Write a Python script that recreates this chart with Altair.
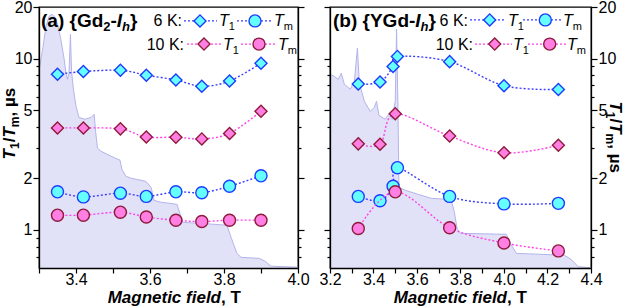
import altair as alt
import pandas as pd

FONT = "Liberation Sans"

# ---------------- data ----------------
# panel (a) {Gd2-Ih}
a_field = [3.35, 3.42, 3.52, 3.59, 3.67, 3.74, 3.815, 3.90]
a_t1_6k = [8.1, 8.4, 8.55, 8.0, 7.5, 6.9, 7.4, 9.4]
a_tm_6k = [1.67, 1.56, 1.64, 1.57, 1.67, 1.65, 1.80, 2.07]
a_t1_10k = [3.94, 3.94, 3.89, 3.49, 3.48, 3.40, 3.66, 4.93]
a_tm_10k = [1.22, 1.22, 1.27, 1.19, 1.14, 1.12, 1.14, 1.14]

# panel (b) {YGd-Ih}
b_field_6k = [3.33, 3.43, 3.49, 3.51, 3.75, 4.00, 4.25]
b_t1_6k = [7.1, 7.3, 9.0, 10.3, 9.6, 6.95, 6.6]
b_tm_6k = [1.57, 1.48, 1.80, 2.31, 1.57, 1.42, 1.43]
b_field_t1_10k = [3.33, 3.43, 3.50, 3.75, 4.00, 4.25]
b_t1_10k = [3.18, 3.16, 4.76, 3.53, 2.82, 3.12]
b_field_tm_10k = [3.33, 3.50, 3.75, 4.00, 4.25]
b_tm_10k = [1.02, 1.67, 1.03, 0.84, 0.755]

# EPR spectra (relative intensity, arbitrary units)
a_spec_field = [3.300, 3.311, 3.319, 3.327, 3.335, 3.343, 3.351, 3.359, 3.368, 3.373,
                3.377, 3.381, 3.385, 3.388, 3.393, 3.400, 3.408, 3.424, 3.441, 3.449,
                3.453, 3.458, 3.468, 3.495, 3.519, 3.524, 3.535, 3.549, 3.589, 3.603,
                3.611, 3.630, 3.673, 3.681, 3.689, 3.738, 3.808, 3.819, 3.835, 3.846,
                3.895, 3.911, 3.927, 4.000]
a_spec_int = [0.754, 0.849, 0.926, 0.964, 0.972, 0.961, 0.930, 0.876, 0.800, 0.746,
              0.723, 0.746, 0.895, 0.754, 0.685, 0.620, 0.577, 0.570, 0.577, 0.589,
              0.524, 0.459, 0.447, 0.428, 0.413, 0.378, 0.351, 0.344, 0.332, 0.309,
              0.259, 0.252, 0.244, 0.209, 0.175, 0.171, 0.164, 0.118, 0.056, 0.041,
              0.037, 0.026, 0.007, 0.003]
b_spec_field = [3.201, 3.220, 3.238, 3.252, 3.266, 3.293, 3.312, 3.326, 3.335, 3.358,
                3.385, 3.404, 3.414, 3.425, 3.454, 3.473, 3.486, 3.500, 3.506, 3.512,
                3.517, 3.546, 3.606, 3.666, 3.744, 3.758, 3.771, 3.785, 3.799, 4.011,
                4.034, 4.057, 4.277, 4.309, 4.341, 4.400]
b_spec_int = [0.742, 0.734, 0.723, 0.746, 0.704, 0.685, 0.715, 0.842, 0.708, 0.639,
              0.600, 0.616, 0.639, 0.585, 0.570, 0.593, 0.570, 0.639, 0.915, 0.639,
              0.309, 0.298, 0.282, 0.267, 0.263, 0.256, 0.217, 0.148, 0.133, 0.129,
              0.087, 0.056, 0.049, 0.033, 0.005, 0.001]

y_major = [1, 2, 5, 10, 20]
y_minor = [0.7, 0.8, 0.9, 3, 4, 6, 7, 8, 9]
a_xticks = [3.3, 3.4, 3.5, 3.6, 3.7, 3.8, 3.9, 4.0]
b_xticks = [3.2, 3.3, 3.4, 3.5, 3.6, 3.7, 3.8, 3.9, 4.0, 4.1, 4.2, 4.3, 4.4]
a_xdomain = [3.3, 4.0]
b_xdomain = [3.2, 4.4]
y_domain = [0.6, 20]

# ---------------- style ----------------
C6_LINE, C6_FILL, C6_EDGE = "#3d3dff", "#66ffff", "#1d3cff"
C10_LINE, C10_FILL, C10_EDGE = "#ff40e8", "#ff80e2", "#8e1a3c"
SPEC_FILL, SPEC_EDGE = "#e1e1f8", "#b4b4ec"
H = 261
A_W, B_W = 259, 261
A_ORIGIN = (38.0, 5.6)
B_ORIGIN = (329.0, 5.6)
MSIZE = 145

YLOG = alt.Scale(type="log", domain=y_domain, nice=False)
MAJOR_TEST = "indexof([1, 2, 5, 10, 20], datum.value) >= 0"


def xs(dom):
    return alt.Scale(domain=dom, nice=False, zero=False)


def y_axis(orient, show_labels):
    kw = dict(orient=orient, values=y_major + y_minor, title=None, grid=False,
              domainColor="black", domainWidth=1.3, tickColor="black", tickWidth=1.2,
              tickSize={"condition": {"test": MAJOR_TEST, "value": 6}, "value": 3},
              labelFont=FONT, labelFontSize=16, labelColor="black", labelPadding=1,
              labelOverlap=False, zindex=2)
    if show_labels:
        kw["labelExpr"] = MAJOR_TEST + " ? datum.label : ''"
        kw["format"] = "~g"
    else:
        kw["labels"] = False
    return alt.Axis(**kw)


def x_axis(ticks):
    return alt.Axis(values=ticks, title=None, grid=False, tickSize=5,
                    labelExpr="round(datum.value*10) % 2 == 0 ? format(datum.value, '.1f') : ''",
                    labelFlush=False, labelOverlap=False, labelFont=FONT, labelFontSize=16,
                    labelColor="black", labelPadding=-2, domainColor="black", domainWidth=1.3,
                    tickColor="black", tickWidth=1.2, zindex=2)


def series(xv, yv, dom, line_c, fill_c, edge_c, shape):
    df = pd.DataFrame({"f": xv, "v": yv})
    base = alt.Chart(df).encode(x=alt.X("f:Q", scale=xs(dom), axis=None),
                                y=alt.Y("v:Q", scale=YLOG, axis=None))
    line = base.mark_line(interpolate="cardinal", strokeDash=[2, 2], color=line_c,
                          strokeWidth=1.4, clip=True)
    pts = base.mark_point(shape=shape, filled=True, fill=fill_c, stroke=edge_c,
                          strokeWidth=1.4, size=MSIZE, opacity=1)
    return [line, pts]


def spectrum(fv, iv, dom):
    df = pd.DataFrame({"f": fv, "i": iv})
    return alt.Chart(df).mark_area(color=SPEC_FILL, opacity=1, clip=True,
                                   line={"color": SPEC_EDGE, "strokeWidth": 1}).encode(
        x=alt.X("f:Q", scale=xs(dom), axis=None),
        y=alt.Y("i:Q", scale=alt.Scale(domain=[0, 1], nice=False), axis=None))


def axis_layers(xv, yv, dom, ticks, labels_left):
    df = pd.DataFrame({"f": xv, "v": yv})
    l1 = alt.Chart(df).mark_point(opacity=0).encode(
        x=alt.X("f:Q", scale=xs(dom), axis=x_axis(ticks)),
        y=alt.Y("v:Q", scale=YLOG, axis=y_axis("left", labels_left)))
    l2 = alt.Chart(df).mark_point(opacity=0).encode(
        x=alt.X("f:Q", scale=xs(dom), axis=None),
        y=alt.Y("v:Q", scale=YLOG, axis=y_axis("right", not labels_left)))
    return [l1, l2]


# ---------------- rich text helpers (annotation layout) ----------------
W = {" ": (278, 278), "(": (333, 333), ")": (333, 333), "{": (334, 389), "}": (334, 389),
     "-": (333, 333), "/": (278, 278), ",": (278, 278), ":": (278, 333), "K": (667, 722),
     "T": (611, 611), "m": (833, 889), "h": (556, 611), "I": (278, 278), "G": (778, 778),
     "d": (556, 611), "a": (556, 556), "b": (556, 611), "Y": (667, 667), "s": (500, 556),
     "µ": (556, 611)}
DIRS = {0: ((1, 0), (0, 1)), 270: ((0, -1), (1, 0)), 90: ((0, 1), (-1, 0))}


def tw(s, size, bold):
    return sum(W.get(c, (556, 556))[1 if bold else 0] for c in s) * size / 1000.0


def rich(x0, y0, pieces, angle=0):
    d, n = DIRS[angle]
    rows, pos = [], 0.0
    for t, size, bold, italic, shift in pieces:
        rows.append(dict(px=x0 + d[0] * pos + n[0] * shift, py=y0 + d[1] * pos + n[1] * shift,
                         t=t, size=size, bold=bold, italic=italic, angle=angle, align="left"))
        pos += tw(t, size, bold)
    return rows


def single(x, y, t, size, bold, italic, align="left", angle=0):
    return [dict(px=x, py=y, t=t, size=size, bold=bold, italic=italic, angle=angle, align=align)]


def text_layers(rows, origin):
    layers = []
    keys = sorted(set((r["bold"], r["italic"], r["angle"], r["align"]) for r in rows))
    for k in keys:
        sub = [r for r in rows if (r["bold"], r["italic"], r["angle"], r["align"]) == k]
        df = pd.DataFrame({"px": [r["px"] - origin[0] for r in sub],
                           "py": [r["py"] - origin[1] for r in sub],
                           "t": [r["t"] for r in sub],
                           "size": [r["size"] for r in sub]})
        layers.append(alt.Chart(df).mark_text(
            font=FONT, fontWeight="bold" if k[0] else "normal",
            fontStyle="italic" if k[1] else "normal", angle=k[2], align=k[3],
            baseline="alphabetic", color="black").encode(
            x=alt.X("px:Q", scale=None, axis=None), y=alt.Y("py:Q", scale=None, axis=None),
            text="t:N", size=alt.Size("size:Q", scale=None, legend=None)))
    return layers


def legend_layers(rules, marks, origin):
    rdf = pd.DataFrame({"x1": [r[0] - origin[0] for r in rules], "x2": [r[1] - origin[0] for r in rules],
                        "y": [r[2] - origin[1] for r in rules], "c": [r[3] for r in rules]})
    mdf = pd.DataFrame({"x": [m[0] - origin[0] for m in marks], "y": [m[1] - origin[1] for m in marks],
                        "shape": [m[2] for m in marks], "fill": [m[3] for m in marks],
                        "edge": [m[4] for m in marks]})
    rl = alt.Chart(rdf).mark_rule(strokeDash=[2, 2], strokeWidth=1.4).encode(
        x=alt.X("x1:Q", scale=None, axis=None), x2="x2:Q",
        y=alt.Y("y:Q", scale=None, axis=None), color=alt.Color("c:N", scale=None, legend=None))
    ml = alt.Chart(mdf).mark_point(filled=True, size=MSIZE, strokeWidth=1.4, opacity=1).encode(
        x=alt.X("x:Q", scale=None, axis=None), y=alt.Y("y:Q", scale=None, axis=None),
        shape=alt.Shape("shape:N", scale=None, legend=None),
        fill=alt.Fill("fill:N", scale=None, legend=None),
        stroke=alt.Stroke("edge:N", scale=None, legend=None))
    return [rl, ml]


def ytitle(x0, y0, angle):
    return rich(x0, y0, [("T", 17, True, True, 0), ("1", 12, True, False, 4),
                         ("/", 17, True, False, 0), ("T", 17, True, True, 0),
                         ("m", 12, True, False, 4), (", µs", 17, True, False, 0)], angle)


def legend_texts(x6end, x10end, t1a, tma, t1b, tmb, y1, y2):
    rows = []
    rows += single(x6end, y1, "6 K:", 16, False, False, align="right")
    rows += single(x10end, y2, "10 K:", 16, False, False, align="right")
    for (x, y, sub) in [(t1a, y1, "1"), (tma, y1, "m"), (t1b, y2, "1"), (tmb, y2, "m")]:
        rows += rich(x, y, [("T", 16, False, True, 0), (sub, 11, False, False, 4)])
    return rows


# ---------------- panel (a) ----------------
a_rows = []
a_rows += rich(40, 26, [("(a) {Gd", 19, True, False, 0), ("2", 13, True, False, 4),
                        ("-", 19, True, False, 0), ("I", 19, True, True, 0),
                        ("h", 13, True, True, 4), ("}", 19, True, False, 0)])
a_rows += legend_texts(181, 183, 218, 273, 222, 277, 25, 48.5)
a_rows += single(220, 301.5, "Magnetic field", 17, True, True, align="right")
a_rows += single(220, 301.5, ", T", 17, True, False, align="left")
a_rows += ytitle(14, 158, 270)

a_leg_rules = [(183, 216, 19.5, C6_LINE), (236, 271, 19.5, C6_LINE),
               (186, 220, 42.7, C10_LINE), (240, 276, 42.7, C10_LINE)]
a_leg_marks = [(199, 19.5, "diamond", C6_FILL, C6_EDGE), (254, 19.5, "circle", C6_FILL, C6_EDGE),
               (203, 42.7, "diamond", C10_FILL, C10_EDGE), (258, 42.7, "circle", C10_FILL, C10_EDGE)]

a_layers = [spectrum(a_spec_field, a_spec_int, a_xdomain)]
a_layers += axis_layers(a_field, a_t1_6k, a_xdomain, a_xticks, True)
a_layers += series(a_field, a_t1_6k, a_xdomain, C6_LINE, C6_FILL, C6_EDGE, "diamond")
a_layers += series(a_field, a_tm_6k, a_xdomain, C6_LINE, C6_FILL, C6_EDGE, "circle")
a_layers += series(a_field, a_t1_10k, a_xdomain, C10_LINE, C10_FILL, C10_EDGE, "diamond")
a_layers += series(a_field, a_tm_10k, a_xdomain, C10_LINE, C10_FILL, C10_EDGE, "circle")
a_layers += legend_layers(a_leg_rules, a_leg_marks, A_ORIGIN)
a_layers += text_layers(a_rows, A_ORIGIN)

panel_a = alt.layer(*a_layers).resolve_scale(x="independent", y="independent").properties(
    width=A_W, height=H)

# ---------------- panel (b) ----------------
b_rows = []
b_rows += rich(332, 26, [("(b) {YGd", 19, True, False, 0), ("-", 19, True, False, 0),
                         ("I", 19, True, True, 0), ("h", 13, True, True, 4),
                         ("}", 19, True, False, 0)])
b_rows += legend_texts(467, 472, 507, 562, 512, 566, 25, 48.5)
b_rows += single(506, 301.5, "Magnetic field", 17, True, True, align="right")
b_rows += single(506, 301.5, ", T", 17, True, False, align="left")
b_rows += ytitle(609, 100, 90)

b_leg_rules = [(469, 505, 18.5, C6_LINE), (522, 560, 18.5, C6_LINE),
               (474, 511, 42.7, C10_LINE), (527, 565, 42.7, C10_LINE)]
b_leg_marks = [(488.7, 18.5, "diamond", C6_FILL, C6_EDGE), (544.3, 18.5, "circle", C6_FILL, C6_EDGE),
               (493.7, 42.7, "diamond", C10_FILL, C10_EDGE), (548.7, 42.7, "circle", C10_FILL, C10_EDGE)]

b_layers = [spectrum(b_spec_field, b_spec_int, b_xdomain)]
b_layers += axis_layers(b_field_6k, b_t1_6k, b_xdomain, b_xticks, False)
b_layers += series(b_field_6k, b_t1_6k, b_xdomain, C6_LINE, C6_FILL, C6_EDGE, "diamond")
b_layers += series(b_field_6k, b_tm_6k, b_xdomain, C6_LINE, C6_FILL, C6_EDGE, "circle")
b_layers += series(b_field_t1_10k, b_t1_10k, b_xdomain, C10_LINE, C10_FILL, C10_EDGE, "diamond")
b_layers += series(b_field_tm_10k, b_tm_10k, b_xdomain, C10_LINE, C10_FILL, C10_EDGE, "circle")
b_layers += legend_layers(b_leg_rules, b_leg_marks, B_ORIGIN)
b_layers += text_layers(b_rows, B_ORIGIN)

panel_b = alt.layer(*b_layers).resolve_scale(x="independent", y="independent").properties(
    width=B_W, height=H)

chart = alt.hconcat(panel_a, panel_b, spacing=32, bounds="flush").properties(
    padding={"left": 0, "top": -2, "right": 0, "bottom": 0},
    background="white",
).configure_view(stroke="black", strokeWidth=1.3)

chart.save("out.html", embed_options={"renderer": "svg", "actions": False})
